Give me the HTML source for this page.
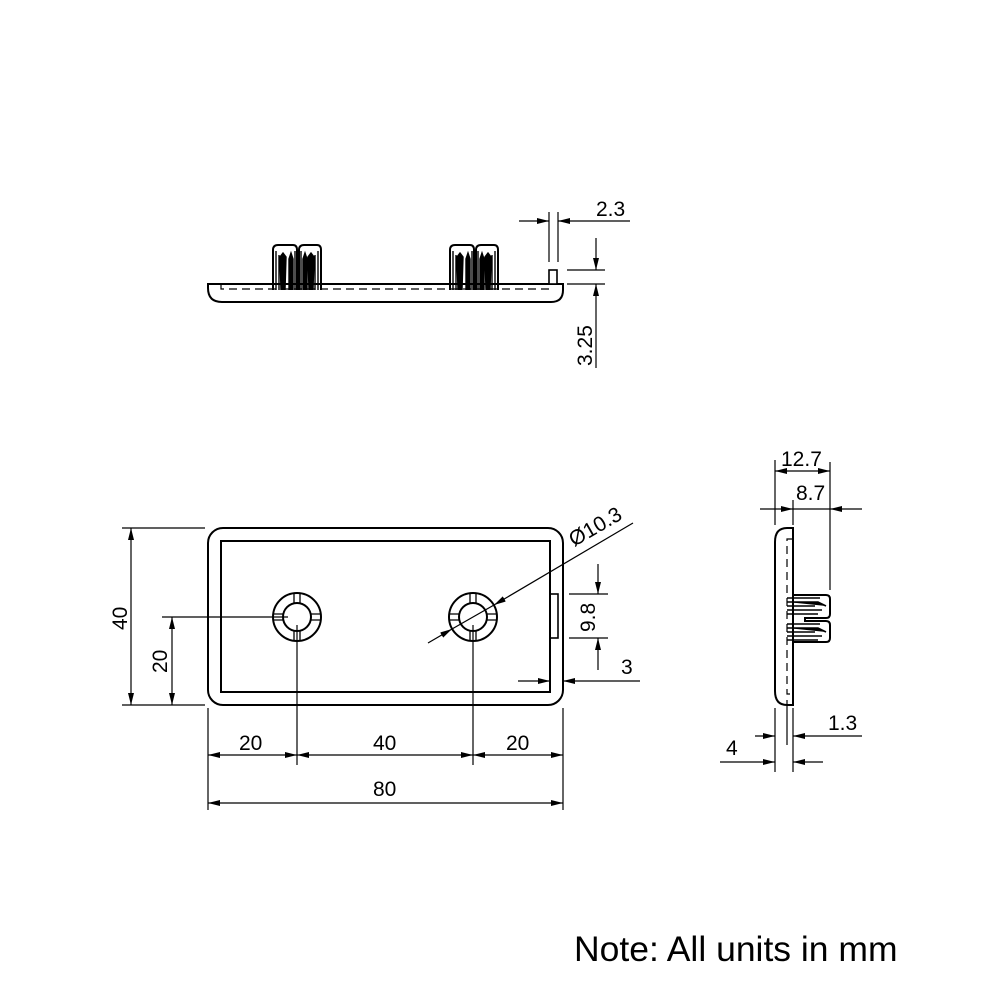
<!DOCTYPE html>
<html><head><meta charset="utf-8"><style>
html,body{margin:0;padding:0;background:#fff;}
svg{display:block;}
text{font-family:"Liberation Sans",sans-serif;fill:#000;}
</style></head><body>
<svg width="1000" height="1000" viewBox="0 0 1000 1000" xmlns="http://www.w3.org/2000/svg">
<defs>
<marker id="a" viewBox="0 0 12 6" refX="12" refY="3" markerWidth="12" markerHeight="6" orient="auto" markerUnits="userSpaceOnUse"><path d="M0,0 L12,3 L0,6 z" fill="#000"/></marker>
<g id="clip">
<path d="M0,45 V5 Q0,0 5,0 H20 Q24,0 24,5 V45" fill="none" stroke="#000" stroke-width="2"/>
<path d="M26,45 V5 Q26,0 31,0 H44 Q48,0 48,5 V45" fill="none" stroke="#000" stroke-width="2"/>
<path d="M24,38 L25,44 L26,38" fill="#000"/>
<g stroke="#000" stroke-width="1.4">
<path d="M3,45 V6 M6,45 V10 M8,45 L7,12 L10,8 L13,12 L12,45 M16,45 V14 L18,8 L20,14 V45 M22,45 V6"/>
<path d="M28,45 V6 M30,45 V14 L32,8 L34,14 V45 M36,45 L35,12 L38,8 L41,12 L40,45 M42,45 V10 M45,45 V6"/>
</g>
</g>
<g id="hole">
<circle r="24" fill="none" stroke="#000" stroke-width="2"/>
<circle r="14" fill="none" stroke="#000" stroke-width="2"/>
<g stroke="#000" stroke-width="1.3">
<path d="M-3,-14V-24M3,-14V-24M-3,14V24M3,14V24M-14,-3H-24M-14,3H-24M14,-3H24M14,3H24"/>
</g>
</g>
</defs>

<!-- TOP VIEW -->
<path d="M208,284 H563 V290 Q563,302 551,302 H222 Q208,302 208,288 Z" fill="#fff" stroke="#000" stroke-width="2"/>
<path d="M221,284 V289 H550 V284" fill="none" stroke="#000" stroke-width="1.2" stroke-dasharray="8,5"/>
<use href="#clip" x="273" y="245"/>
<use href="#clip" x="450" y="245"/>
<rect x="549" y="270" width="8" height="14" fill="#fff" stroke="#000" stroke-width="1.6"/>
<g stroke="#000" stroke-width="1.2" fill="none">
<line x1="549" y1="212" x2="549" y2="262"/>
<line x1="558" y1="212" x2="558" y2="262"/>
<line x1="519" y1="221" x2="549" y2="221" marker-end="url(#a)"/>
<line x1="630" y1="221" x2="558" y2="221" marker-end="url(#a)"/>
<line x1="567" y1="270" x2="605" y2="270"/>
<line x1="567" y1="284" x2="605" y2="284"/>
<line x1="596" y1="238" x2="596" y2="270" marker-end="url(#a)"/>
<line x1="596" y1="368" x2="596" y2="284" marker-end="url(#a)"/>
</g>
<text x="596" y="216" font-size="21">2.3</text>
<text transform="translate(592,366) rotate(-90)" font-size="21">3.25</text>

<!-- FRONT VIEW -->
<rect x="208" y="528" width="355" height="177" rx="15" fill="none" stroke="#000" stroke-width="2"/>
<rect x="221" y="541" width="329" height="151" fill="none" stroke="#000" stroke-width="2"/>
<rect x="550" y="594" width="8" height="44" fill="none" stroke="#000" stroke-width="1.6"/>
<use href="#hole" x="297" y="617"/>
<use href="#hole" x="473" y="617"/>
<g stroke="#000" stroke-width="1.2" fill="none">
<line x1="122" y1="528" x2="205" y2="528"/>
<line x1="122" y1="705" x2="205" y2="705"/>
<line x1="131" y1="617" x2="131" y2="528" marker-end="url(#a)"/>
<line x1="131" y1="617" x2="131" y2="705" marker-end="url(#a)"/>
<line x1="162" y1="617" x2="288" y2="617"/>
<line x1="172" y1="660" x2="172" y2="617" marker-end="url(#a)"/>
<line x1="172" y1="660" x2="172" y2="705" marker-end="url(#a)"/>
<line x1="208" y1="708" x2="208" y2="810"/>
<line x1="563" y1="708" x2="563" y2="810"/>
<line x1="297" y1="625" x2="297" y2="765"/>
<line x1="473" y1="625" x2="473" y2="765"/>
<line x1="252" y1="755" x2="208" y2="755" marker-end="url(#a)"/>
<line x1="252" y1="755" x2="297" y2="755" marker-end="url(#a)"/>
<line x1="385" y1="755" x2="297" y2="755" marker-end="url(#a)"/>
<line x1="385" y1="755" x2="473" y2="755" marker-end="url(#a)"/>
<line x1="518" y1="755" x2="473" y2="755" marker-end="url(#a)"/>
<line x1="518" y1="755" x2="563" y2="755" marker-end="url(#a)"/>
<line x1="385" y1="803" x2="208" y2="803" marker-end="url(#a)"/>
<line x1="385" y1="803" x2="563" y2="803" marker-end="url(#a)"/>
<line x1="569" y1="594" x2="608" y2="594"/>
<line x1="569" y1="638" x2="608" y2="638"/>
<line x1="598" y1="564" x2="598" y2="594" marker-end="url(#a)"/>
<line x1="598" y1="670" x2="598" y2="638" marker-end="url(#a)"/>
<line x1="518" y1="681" x2="550" y2="681" marker-end="url(#a)"/>
<line x1="640" y1="681" x2="563" y2="681" marker-end="url(#a)"/>
<line x1="633" y1="523" x2="494" y2="605" marker-end="url(#a)"/>
<line x1="428" y1="643" x2="452" y2="629" marker-end="url(#a)"/>
<line x1="452" y1="629" x2="494" y2="605"/>
</g>
<text transform="translate(127,630) rotate(-90)" font-size="21">40</text>
<text transform="translate(167,673) rotate(-90)" font-size="21">20</text>
<text x="239" y="750" font-size="21">20</text>
<text x="373" y="750" font-size="21">40</text>
<text x="506" y="750" font-size="21">20</text>
<text x="373" y="796" font-size="21">80</text>
<text transform="translate(595,632) rotate(-90)" font-size="21">9.8</text>
<text x="621" y="674" font-size="21">3</text>
<text transform="translate(574,547) rotate(-30)" font-size="21">Ø10.3</text>

<!-- SIDE VIEW -->
<path d="M793,528 H787 Q775,528 775,542 V691 Q775,705 787,705 H793 Z" fill="#fff" stroke="#000" stroke-width="2"/>
<path d="M793,539 H787 V694 H793" fill="none" stroke="#000" stroke-width="1.2" stroke-dasharray="8,5"/>
<path d="M793,595 H826 Q830,595 830,599 V614 Q830,618 826,618 H805 V621 H826 Q830,621 830,625 V638 Q830,642 826,642 H793" fill="none" stroke="#000" stroke-width="2"/>
<g stroke="#000" stroke-width="1.6">
<path d="M787,598H820M787,602H818L826,606M787,606H815M787,610H822M787,614H818"/>
<path d="M787,624H820M787,628H818L826,632M787,632H815M787,636H822M787,640H818"/>
</g>
<g stroke="#000" stroke-width="1.2" fill="none">
<line x1="775" y1="460" x2="775" y2="525"/>
<line x1="775" y1="708" x2="775" y2="772"/>
<line x1="830" y1="462" x2="830" y2="590"/>
<line x1="793" y1="500" x2="793" y2="525"/>
<line x1="793" y1="708" x2="793" y2="772"/>
<line x1="787" y1="700" x2="787" y2="745"/>
<line x1="802" y1="471" x2="775" y2="471" marker-end="url(#a)"/>
<line x1="802" y1="471" x2="830" y2="471" marker-end="url(#a)"/>
<line x1="760" y1="509" x2="793" y2="509" marker-end="url(#a)"/>
<line x1="793" y1="509" x2="830" y2="509"/>
<line x1="862" y1="509" x2="830" y2="509" marker-end="url(#a)"/>
<line x1="755" y1="736" x2="775" y2="736" marker-end="url(#a)"/>
<line x1="862" y1="736" x2="793" y2="736" marker-end="url(#a)"/>
<line x1="720" y1="762" x2="775" y2="762" marker-end="url(#a)"/>
<line x1="823" y1="762" x2="793" y2="762" marker-end="url(#a)"/>
</g>
<text x="781" y="466" font-size="21">12.7</text>
<text x="796" y="500" font-size="21">8.7</text>
<text x="828" y="730" font-size="21">1.3</text>
<text x="726" y="755" font-size="21">4</text>

<text x="574" y="961" font-size="35.5">Note: All units in mm</text>
</svg>
</body></html>
